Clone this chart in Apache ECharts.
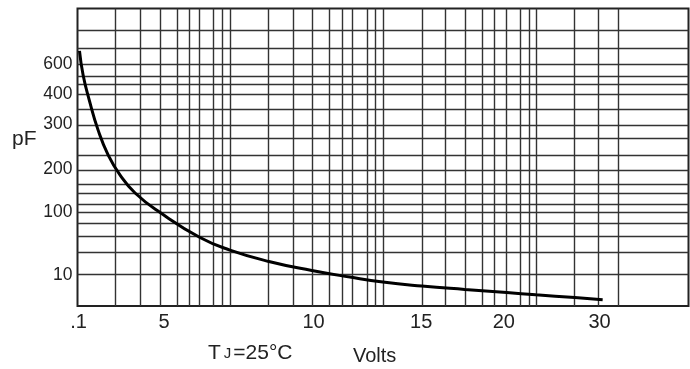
<!DOCTYPE html>
<html>
<head>
<meta charset="utf-8">
<script src="https://cdn.jsdelivr.net/npm/echarts@6/dist/echarts.min.js"></script>
<style>
html,body{margin:0;padding:0;background:#fff;}
#chart{width:690px;height:369px;}
</style>
</head>
<body>
<div id="chart"></div>
<script>
// Graph-paper axes: x in "paper decades" (0..4), y in "paper decades" (0..2.446)
const xRuling = [0.251,0.410,0.536,0.650,0.728,0.802,0.889,0.951,1.003,
                 1.254,1.408,1.537,1.652,1.731,1.805,1.896,1.953,2.001,
                 2.259,2.409,2.535,2.653,2.731,2.812,2.899,2.956,3.004,
                 3.250,3.411,3.538];
const yRuling = [0.257,0.441,0.567,0.682,0.770,0.844,0.934,1.000,
                 1.122,1.237,1.383,1.493,1.624,1.740,1.822,1.890,1.986,
                 2.122,2.268];

// tick labels and their positions on the paper
const xTickLabels = ['.1','5','10','15','20','30'];
const xTickPos    = [0.007,0.566,1.545,2.250,2.791,3.418];
const yTickLabels = ['600','400','300','200','100','10'];
const yTickPos    = [1.986,1.740,1.493,1.122,0.770,0.257];

// capacitance curve (paper units)
const curveX = [0.013,0.037,0.077,0.135,0.201,0.279,0.377,0.541,0.802,0.998,
                1.253,1.534,1.783,1.999,2.254,2.535,2.810,3.000,3.255,3.438];
const curveY = [2.098,1.897,1.693,1.446,1.241,1.076,0.929,0.768,0.563,0.460,
                0.366,0.292,0.238,0.197,0.164,0.136,0.111,0.092,0.069,0.051];

const chart = echarts.init(document.getElementById('chart'), null, {renderer:'canvas'});
const FONT = '"Liberation Sans", Arial, sans-serif';
const gridLine = {color:'#333', width:1.4, type:'solid'};

const ruling = [];
xRuling.forEach(v => ruling.push({xAxis: v}));
yRuling.forEach(v => ruling.push({yAxis: v}));

const option = {
  animation: false,
  backgroundColor: '#fff',
  grid: {left: 77.5, right: 1.5, top: 8.5, bottom: 63, show: true, borderColor: '#222', borderWidth: 2, backgroundColor: 'transparent'},
  xAxis: {
    type: 'value', min: 0, max: 4,
    axisLine: {show: false}, axisTick: {show: false}, splitLine: {show: false},
    axisLabel: {
      customValues: xTickPos, showMinLabel: true, showMaxLabel: true,
      margin: 6, color: '#222', fontSize: 20, fontFamily: FONT,
      formatter: v => { const i = xTickPos.indexOf(v); return i >= 0 ? xTickLabels[i] : ''; }
    }
  },
  yAxis: {
    type: 'value', min: 0, max: 2.446,
    axisLine: {show: false}, axisTick: {show: false}, splitLine: {show: false},
    axisLabel: {
      customValues: yTickPos, showMinLabel: true, showMaxLabel: true,
      margin: 5, color: '#222', fontSize: 17.5, fontFamily: FONT,
      formatter: v => { const i = yTickPos.indexOf(v); return i >= 0 ? yTickLabels[i] : ''; }
    }
  },
  series: [
    {
      type: 'line', data: [], z: 1, silent: true,
      markLine: {symbol: 'none', silent: true, label: {show: false}, lineStyle: gridLine, data: ruling, animation: false}
    },
    {
      type: 'line', z: 5, smooth: 0.5, showSymbol: false, symbol: 'none',
      lineStyle: {color: '#000', width: 3},
      data: curveX.map((x, i) => [x, curveY[i]])
    }
  ],
  graphic: [
    {type: 'text', left: 12, top: 129, style: {text: 'pF', fontSize: 21, fontFamily: FONT, fill: '#222'}},
    {type: 'text', left: 208, top: 343, style: {
      text: '{a|T}{b|J}{a|=25°C}', fill: '#222',
      rich: {a: {fontSize: 21, fontFamily: FONT, fill: '#222'}, b: {fontSize: 15, fontFamily: FONT, fill: '#222', padding: [0, 2, 0, 3]}}
    }},
    {type: 'text', left: 353, top: 346, style: {text: 'Volts', fontSize: 20, fontFamily: FONT, fill: '#222'}}
  ]
};
chart.setOption(option);
</script>
</body>
</html>
